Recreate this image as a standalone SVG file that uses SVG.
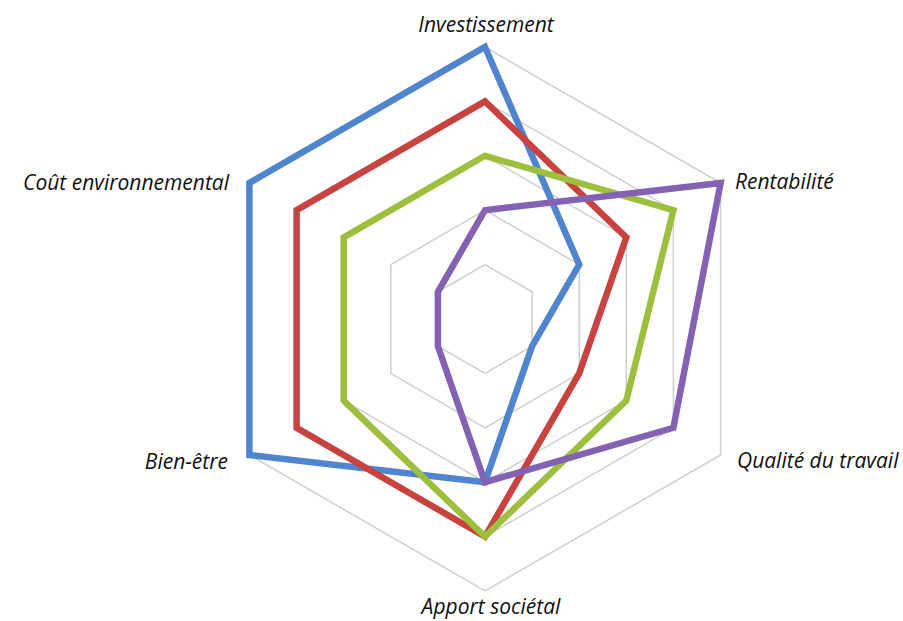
<svg xmlns="http://www.w3.org/2000/svg" width="903" height="621" viewBox="0 0 903 621">
<style>
.grid{fill:none;stroke:#cfcfcf;stroke-width:1.5}
.s{fill:none;stroke-width:6.5;stroke-linejoin:miter}
.lbl{font-family:"Open Sans","Noto Sans","Liberation Sans",sans-serif;font-style:italic;font-size:21px;fill:#111}
</style>
<rect width="903" height="621" fill="#fff"/>
<g id="grid">
<polygon class="grid" points="485,264.6 532.1,291.8 532.1,346.2 485,373.4 437.9,346.2 437.9,291.8"/>
<polygon class="grid" points="485,210.2 579.2,264.6 579.2,373.4 485,427.8 390.8,373.4 390.8,264.6"/>
<polygon class="grid" points="485,155.8 626.3,237.4 626.3,400.6 485,482.2 343.7,400.6 343.7,237.4"/>
<polygon class="grid" points="485,101.4 673.4,210.2 673.4,427.8 485,536.6 296.6,427.8 296.6,210.2"/>
<polygon class="grid" points="485,47 720.6,183 720.6,455 485,591 249.4,455 249.4,183"/>
</g>
<g id="series">
<polygon id="blue" class="s" stroke="#4f84cf" points="485,47 579.2,264.6 532.1,346.2 485,482.2 249.4,455 249.4,183"/>
<polygon id="red" class="s" stroke="#c84340" points="485,101.4 626.3,237.4 579.2,373.4 485,536.6 296.6,427.8 296.6,210.2"/>
<polygon id="green" class="s" stroke="#9cc03e" points="485,155.8 673.4,210.2 626.3,400.6 485,536.6 343.7,400.6 343.7,237.4"/>
<polygon id="purple" class="s" stroke="#8462b3" points="485,210.2 720.6,183 673.4,427.8 485,482.2 437.9,346.2 437.9,291.8"/>
</g>
<g id="labels">
<text class="lbl" x="486" y="32" text-anchor="middle">Investissement</text>
<text class="lbl" x="735" y="189">Rentabilité</text>
<text class="lbl" x="737" y="468">Qualité du travail</text>
<text class="lbl" x="491" y="614" text-anchor="middle">Apport sociétal</text>
<text class="lbl" x="228" y="469" text-anchor="end">Bien-être</text>
<text class="lbl" x="229" y="190" text-anchor="end">Coût environnemental</text>
</g>
</svg>
